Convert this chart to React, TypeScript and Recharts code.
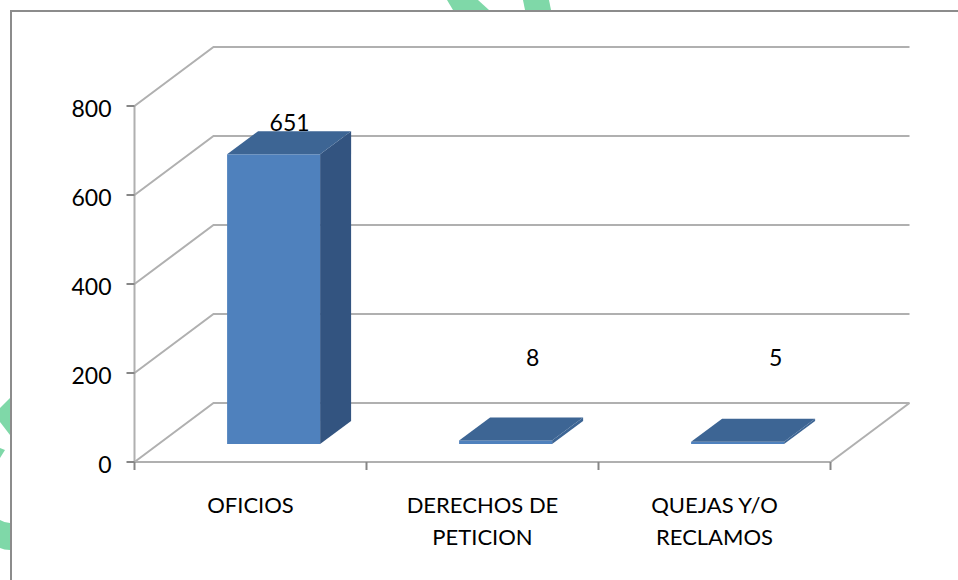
import React from 'react';
import { BarChart, Bar, XAxis, YAxis, CartesianGrid, LabelList, Text } from 'recharts';

const categories = ['OFICIOS', 'DERECHOS DE PETICION', 'QUEJAS Y/O RECLAMOS'];
const values = [651, 8, 5];
const yTicks = [0, 200, 400, 600, 800];

const data = categories.map((name, i) => ({ name, value: values[i] }));

// 3d look of the old office chart
const WALL_X = 79;
const WALL_Y = 59;
const BAR_DX = 23;
const BAR_DY = 18;
const DEPTH_X = 31;
const DEPTH_Y = 23;
const FONT = 'Lato, sans-serif';
const FONT_SIZE = 22;
const NUM_SIZE = 23;
const TOP_COLOR = '#3d6594';
const SIDE_COLOR = '#335480';
const TICK_COLOR = '#868686';
const GRID_COLOR = '#b0b0b0';

// the data labels sit away from the bars in the original
const labelShift = [
    { dx: 39, dy: -50 },
    { dx: 50, dy: -101 },
    { dx: 61, dy: -103 },
];

const Bar3D = (props: any) => {
    const { width, height } = props;
    const x = props.x + BAR_DX;
    const y = props.y - BAR_DY;
    const r = x + width;
    const b = y + height;
    return (
        <g>
            <polygon
                points={`${r},${y} ${r + DEPTH_X},${y - DEPTH_Y} ${r + DEPTH_X},${b - DEPTH_Y} ${r},${b}`}
                fill={height < 10 ? TOP_COLOR : SIDE_COLOR}
            />
            <rect x={x} y={y} width={width} height={height} fill="#4f81bd" />
            <polygon
                points={`${x},${y} ${x + DEPTH_X},${y - DEPTH_Y} ${r + DEPTH_X},${y - DEPTH_Y} ${r},${y}`}
                fill={TOP_COLOR}
            />
        </g>
    );
};

const WallLine = (props: any) => {
    const { x1, x2, y1, index } = props;
    const top = y1 - WALL_Y;
    return (
        <g key={`wall-${index}`}>
            <polyline
                points={`${x1},${y1} ${x1 + WALL_X},${top} ${x2 + WALL_X},${top}`}
                fill="none"
                stroke={GRID_COLOR}
                strokeWidth={2}
            />
            {y1 > 400 && (
                <line x1={x2} y1={y1} x2={x2 + WALL_X} y2={top} stroke={GRID_COLOR} strokeWidth={2} />
            )}
        </g>
    );
};

// ticks go between the categories, not under them
const CategoryTick = (props: any) => {
    const { x, y, payload, index, visibleTicksCount } = props;
    const half = payload.offset ?? 116;
    const axisY = 462;
    return (
        <g>
            <line x1={x - half} y1={axisY} x2={x - half} y2={axisY + 8} stroke={TICK_COLOR} strokeWidth={2} />
            {index === visibleTicksCount - 1 && (
                <line x1={x + half} y1={axisY} x2={x + half} y2={axisY + 8} stroke={TICK_COLOR} strokeWidth={2} />
            )}
            <Text
                x={x}
                y={y}
                width={175}
                textAnchor="middle"
                verticalAnchor="start"
                lineHeight={32}
                fontFamily={FONT}
                fontSize={FONT_SIZE}
                fill="#000"
            >
                {payload.value}
            </Text>
        </g>
    );
};

const ValueLabel = (props: any) => {
    const { x, y, width, index, value } = props;
    const s = labelShift[index];
    return (
        <text
            x={x + width / 2 + s.dx}
            y={y + s.dy}
            textAnchor="middle"
            dominantBaseline="central"
            fontFamily={FONT}
            fontSize={NUM_SIZE}
            fill="#000"
        >
            {value}
        </text>
    );
};

// bits of the page behind the chart frame
const PageBackdrop = () => (
    <svg width={958} height={580} style={{ position: 'absolute', left: 0, top: 0 }}>
        <polygon points="447,0 478,0 489,10 453,10" fill="#7fd8a8" />
        <polygon points="523,0 549,0 551,10 525,10" fill="#7fd8a8" />
        <polygon points="0,408 10,398 10,435 0,422" fill="#7fd8a8" />
        <polygon points="0,448 5,450 0,458" fill="#7fd8a8" />
        <path d="M0,520 Q5,523 10,523 L10,550 Q4,550 0,548 Z" fill="#7fd8a8" />
        <polyline points="11,580 11,11 958,11" fill="none" stroke="#8c8c8c" strokeWidth={2} />
    </svg>
);

export default function App() {
    return (
        <div style={{ position: 'absolute', left: 0, top: 0, width: 958, height: 580, background: '#fff' }}>
            <PageBackdrop />
            <div style={{ position: 'absolute', left: 0, top: 0 }}>
                <BarChart
                    width={958}
                    height={580}
                    data={data}
                    barCategoryGap="30%"
                    margin={{ top: 106, right: 127.5, bottom: 0, left: 0 }}
                >
                    <CartesianGrid vertical={false} horizontal={WallLine} />
                    <XAxis
                        dataKey="name"
                        height={118}
                        interval={0}
                        tickLine={false}
                        tickSize={8}
                        tickMargin={27}
                        axisLine={{ stroke: GRID_COLOR, strokeWidth: 2 }}
                        tick={<CategoryTick />}
                    />
                    <YAxis
                        width={134.5}
                        domain={[0, 800]}
                        ticks={yTicks}
                        tickSize={8}
                        tickMargin={15}
                        axisLine={{ stroke: GRID_COLOR, strokeWidth: 2 }}
                        tickLine={{ stroke: TICK_COLOR, strokeWidth: 2 }}
                        tick={{ fontFamily: FONT, fontSize: NUM_SIZE, fill: '#000', dy: 3 }}
                    />
                    <Bar dataKey="value" isAnimationActive={false} shape={<Bar3D />}>
                        <LabelList dataKey="value" content={<ValueLabel />} />
                    </Bar>
                </BarChart>
            </div>
        </div>
    );
}
